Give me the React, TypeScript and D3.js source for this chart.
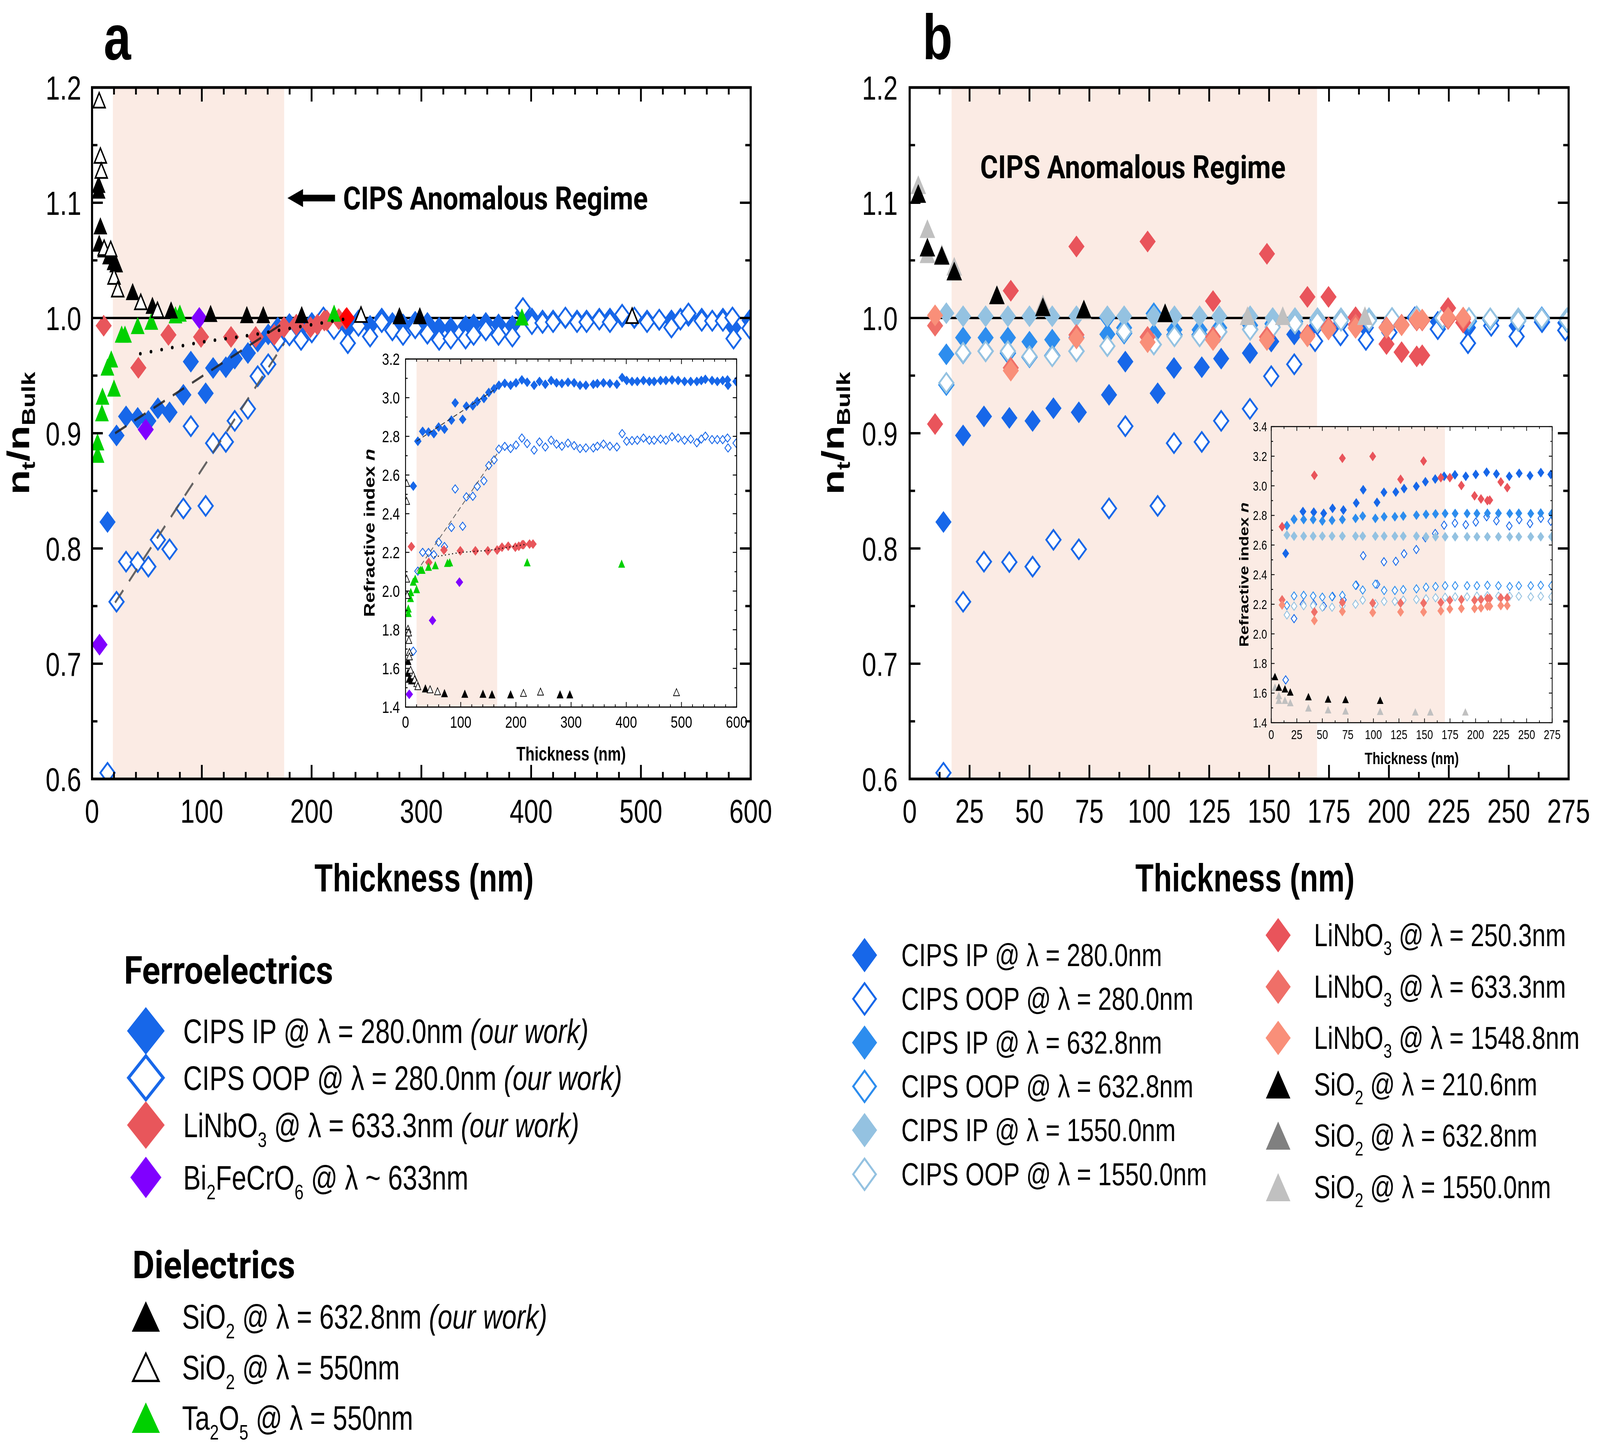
import React, { useEffect } from 'react';
import * as d3 from 'd3';

// ---------------- DATA ----------------
// CIPS @ 280 nm (thickness, nm) with refractive index n (IP / OOP)
const cipsThk = [14.1, 22.3, 31, 41.6, 51.3, 60, 70.6, 83.2, 90, 103.5, 110.3, 121.9, 130, 142, 150.9, 160.5, 169.2, 179.8, 190.4, 200.2, 210.8, 220.4, 233, 242.7, 253.3, 263.9, 273.6, 283.3, 294.4, 305.5, 316.2, 326.8, 340.3, 347.6, 358.7, 370.3, 382.9, 392.5, 400.7, 410.4, 420, 431.2, 441.8, 450.5, 462.1, 471.8, 482.9, 494, 505.6, 516.7, 527.8, 536, 543.3, 555.4, 565, 574.7, 583.4, 584.4, 598.9];
const cipsIP280 = [2.543, 2.775, 2.826, 2.822, 2.814, 2.848, 2.837, 2.884, 2.973, 2.888, 2.956, 2.958, 2.981, 2.996, 3.027, 3.046, 3.064, 3.074, 3.064, 3.077, 3.092, 3.08, 3.064, 3.084, 3.069, 3.089, 3.077, 3.073, 3.08, 3.077, 3.064, 3.064, 3.069, 3.073, 3.077, 3.073, 3.069, 3.104, 3.089, 3.084, 3.084, 3.089, 3.084, 3.084, 3.089, 3.089, 3.092, 3.089, 3.084, 3.084, 3.084, 3.089, 3.095, 3.089, 3.084, 3.089, 3.092, 3.064, 3.084];
const cipsOOP280 = [1.689, 2.103, 2.2, 2.199, 2.188, 2.253, 2.23, 2.329, 2.528, 2.335, 2.487, 2.49, 2.541, 2.57, 2.649, 2.678, 2.734, 2.748, 2.737, 2.755, 2.791, 2.763, 2.729, 2.771, 2.745, 2.78, 2.76, 2.749, 2.765, 2.752, 2.737, 2.74, 2.74, 2.749, 2.76, 2.749, 2.745, 2.814, 2.775, 2.778, 2.78, 2.791, 2.78, 2.78, 2.786, 2.78, 2.798, 2.791, 2.78, 2.786, 2.767, 2.786, 2.801, 2.783, 2.783, 2.783, 2.791, 2.74, 2.765];
const bulkIP280 = 3.09;
const bulkOOP280 = 2.79;

// CIPS @ 632.8 nm and 1550 nm
const cipsThkB = [15.3, 22.3, 31.7, 41, 50, 59.5, 69.6, 82.5, 89.5, 101.9, 110.5, 121, 129.2, 142.1, 151.5, 160.8, 170.2, 180, 191.7, 201.3, 211.6, 222.4, 233.4, 242.3, 254, 263.8, 274.3];
const cipsIP632 = [2.731, 2.772, 2.772, 2.772, 2.762, 2.767, 2.772, 2.78, 2.796, 2.78, 2.791, 2.791, 2.796, 2.802, 2.807, 2.81, 2.813, 2.813, 2.813, 2.813, 2.815, 2.815, 2.813, 2.815, 2.812, 2.816, 2.81];
const cipsOOP632 = [2.192, 2.256, 2.26, 2.256, 2.248, 2.251, 2.26, 2.328, 2.296, 2.336, 2.293, 2.293, 2.299, 2.304, 2.315, 2.32, 2.325, 2.325, 2.325, 2.325, 2.328, 2.325, 2.32, 2.325, 2.325, 2.328, 2.325];
const cipsIP1550 = [2.667, 2.66, 2.66, 2.66, 2.66, 2.66, 2.66, 2.66, 2.66, 2.66, 2.66, 2.66, 2.66, 2.66, 2.656, 2.656, 2.656, 2.656, 2.656, 2.656, 2.656, 2.656, 2.656, 2.656, 2.656, 2.656, 2.656];
const cipsOOP1550 = [2.128, 2.187, 2.19, 2.19, 2.18, 2.18, 2.19, 2.2, 2.228, 2.203, 2.219, 2.219, 2.228, 2.232, 2.237, 2.244, 2.247, 2.25, 2.25, 2.255, 2.258, 2.255, 2.255, 2.254, 2.25, 2.254, 2.25];
const bulkIP632 = 2.82;
const bulkOOP632 = 2.327;
const bulkIP1550 = 2.656;
const bulkOOP1550 = 2.255;

// LiNbO3
const lnThk = [10.6, 42.2, 69.6, 99.3, 126.6, 149.1, 166, 174.8, 186.1, 199, 205.3, 211.6, 213.9, 224.7, 231];
const ln250 = [2.724, 3.071, 3.186, 3.199, 3.044, 3.167, 3.055, 3.055, 3.002, 2.932, 2.911, 2.9, 2.903, 3.026, 2.988];
const ln633 = [2.23, 2.148, 2.212, 2.208, 2.208, 2.208, 2.212, 2.227, 2.232, 2.227, 2.232, 2.24, 2.24, 2.243, 2.243];
const ln1548 = [2.195, 2.09, 2.151, 2.144, 2.148, 2.148, 2.155, 2.168, 2.171, 2.171, 2.176, 2.187, 2.187, 2.191, 2.191];
const bulkLn250 = 3.0;
const bulkLn633 = 2.245;
const bulkLn1548 = 2.19;
const lnRefThk = [232];
const lnRefRatio = [1.0];

// Bi2FeCrO6
const bfcoThk = [6.8, 48.9, 97.7];
const bfcoN = [1.466, 1.848, 2.046];
const bulkBfco = 2.046;

// Ta2O5 @ 550 nm
const taThk = [5, 5, 9, 9.5, 14, 17.5, 20, 27, 30, 41.6, 54, 76, 80, 220.5, 391.6];
const taN = [1.887, 1.91, 1.964, 1.995, 2.049, 2.064, 2.01, 2.11, 2.11, 2.126, 2.134, 2.146, 2.149, 2.149, 2.142];
const bulkTa = 2.14;

// SiO2 @ 632.8 nm (our work) — panel a
const sioOurThkMain = [6, 6, 7.6, 6.5, 11, 15.5, 19.6, 22, 37, 55, 72, 108, 141, 156, 191, 280, 298.6];
const sioOurRatioMain = [1.116, 1.111, 1.08, 1.065, 1.06, 1.054, 1.049, 1.047, 1.023, 1.011, 1.007, 1.004, 1.003, 1.003, 1.003, 1.002, 1.002];
const sioOurThkInset = [4.5, 4.5, 6.8, 10.8, 14, 36, 70.6, 107.4, 140.3, 156.7, 190.4, 280, 297.7];
const sioOurNInset = [1.639, 1.578, 1.547, 1.539, 1.539, 1.497, 1.472, 1.469, 1.469, 1.466, 1.466, 1.466, 1.466];

// SiO2 @ 550 nm
const sio550ThkMain = [6.5, 7.6, 8.4, 11, 17, 20, 23.4, 44.4, 59.6, 245, 492];
const sio550RatioMain = [1.189, 1.141, 1.128, 1.061, 1.06, 1.036, 1.025, 1.014, 1.007, 1.003, 1.002];
const sio550ThkInset = [2, 2, 2, 3, 4.5, 5.5, 6, 7, 7, 9.2, 14, 16.5, 20.4, 22.3, 44.5, 58, 213.7, 244.6, 491];
const sio550NInset = [2.559, 2.466, 2.064, 1.98, 1.805, 1.786, 1.747, 1.685, 1.662, 1.593, 1.565, 1.544, 1.524, 1.508, 1.492, 1.482, 1.473, 1.48, 1.477];

// SiO2 panel b
const sio210Thk = [3.6, 7.4, 13.4, 18.6, 36.4, 55.6, 72.7, 106.6];
const sio210N = [1.712, 1.64, 1.629, 1.608, 1.576, 1.56, 1.557, 1.552];
const bulkSio210 = 1.545;
const sio1550Thk = [3.6, 7.4, 7.4, 13.4, 18.6, 36.4, 55.6, 72.7, 106.6, 141, 155.7, 190];
const sio1550N = [1.64, 1.584, 1.552, 1.552, 1.536, 1.5, 1.488, 1.48, 1.477, 1.473, 1.473, 1.473];
const bulkSio1550 = 1.47;

// Fit lines (panel a)
const fitThk = [21, 175];
const fitIPRatio = [0.9, 0.996];
const fitOOPRatio = [0.753, 0.978];
const lnFitThk = [44, 99, 144, 211, 230];
const lnFitRatio = [0.969, 0.979, 0.985, 0.996, 0.999];
const fitThkInset = [20, 166];
const fitIPInset = [2.775, 3.05];
const fitOOPInset = [2.1, 2.71];
const lnFitThkInset = [53, 100, 150, 215];
const lnFitInset = [2.177, 2.2, 2.21, 2.24];

// Shaded regimes
const regimeA = [19, 175];
const regimeB = [17.5, 170];
const regimeInsetA = [20, 166];
const regimeInsetB = [17.5, 170];

// Ticks
const aXTicks = [0, 100, 200, 300, 400, 500, 600];
const bXTicks = [0, 25, 50, 75, 100, 125, 150, 175, 200, 225, 250, 275];
const ratioTicks = [0.6, 0.7, 0.8, 0.9, 1.0, 1.1, 1.2];
const insetAYTicks = [1.4, 1.6, 1.8, 2.0, 2.2, 2.4, 2.6, 2.8, 3.0, 3.2];
const insetBYTicks = [1.4, 1.6, 1.8, 2.0, 2.2, 2.4, 2.6, 2.8, 3.0, 3.2, 3.4];

// ---------------- STYLE ----------------
const COL = {
  ip280: '#1767E9', ip632: '#2D8DEE', ip1550: '#94C2E1',
  ln250: '#E9545B', ln633a: '#E8565B', ln633b: '#EF6F68', ln1548: '#F98F79',
  bfco: '#8000FF', ta: '#00D000', gray: '#808080', lgray: '#C0C0C0',
  shade: '#FBEBE4', red: '#FF0000',
};
const SANS = '"Liberation Sans", Arial, Helvetica, sans-serif';
const COND = 'Roboto, "Liberation Sans", sans-serif';

const ratio = (arr: number[], bulk: number) => arr.map((v) => v / bulk);
const minorsOf = (majors: number[]) => {
  const out: number[] = [];
  for (let i = 0; i < majors.length - 1; i++) out.push((majors[i] + majors[i + 1]) / 2);
  return out;
};
const minorsN = (majors: number[], n: number) => {
  const out: number[] = [];
  for (let i = 0; i < majors.length - 1; i++) {
    for (let k = 1; k < n; k++) out.push(majors[i] + ((majors[i + 1] - majors[i]) * k) / n);
  }
  return out;
};

const diamondPath = (hw: number, hh: number) => `M0,${-hh}L${hw},0L0,${hh}L${-hw},0Z`;
const trianglePath = (hw: number, hh: number) => `M0,${-hh}L${hw},${hh}L${-hw},${hh}Z`;

interface Ser {
  xs: number[]; ys: number[]; shape: 'd' | 't'; fill: string; stroke: string; sw: number; hw: number; hh: number;
}
interface FitLine { xs: number[]; ys: number[]; stroke: string; sw: number; dash: string; cap?: string; opacity?: number; }

interface Box { x0: number; x1: number; y0: number; y1: number; }

interface PanelCfg {
  id: string;
  box: Box;
  xDom: [number, number];
  yDom: [number, number];
  xMajor: number[];
  xMinor: number[];
  yMajor: number[];
  yMinor: number[];
  majorLen: number;
  minorLen: number;
  tickW: number;
  frameW: number;
  fontSize: number;
  xLabelBase: number;
  yLabelRight: number;
  yLabelDy: number;
  yFmt: (v: number) => string;
  shade: number[];
  refLine?: number;
  refW?: number;
  series: Ser[];
  fits: FitLine[];
}

function Panel({ cfg }: { cfg: PanelCfg }) {
  const { box } = cfg;
  const sx = d3.scaleLinear().domain(cfg.xDom).range([box.x0, box.x1]);
  const sy = d3.scaleLinear().domain(cfg.yDom).range([box.y1, box.y0]);
  const line = d3.line<[number, number]>().x((d) => sx(d[0])).y((d) => sy(d[1]));
  const clip = `clip-${cfg.id}`;
  const ticks: any[] = [];
  const addX = (v: number, len: number, k: string) => {
    const x = sx(v);
    ticks.push(<line key={`xb${k}`} x1={x} x2={x} y1={box.y1} y2={box.y1 - len} />);
    ticks.push(<line key={`xt${k}`} x1={x} x2={x} y1={box.y0} y2={box.y0 + len} />);
  };
  const addY = (v: number, len: number, k: string) => {
    const y = sy(v);
    ticks.push(<line key={`yl${k}`} x1={box.x0} x2={box.x0 + len} y1={y} y2={y} />);
    ticks.push(<line key={`yr${k}`} x1={box.x1} x2={box.x1 - len} y1={y} y2={y} />);
  };
  cfg.xMajor.forEach((v, i) => addX(v, cfg.majorLen, 'M' + i));
  cfg.xMinor.forEach((v, i) => addX(v, cfg.minorLen, 'm' + i));
  cfg.yMajor.forEach((v, i) => addY(v, cfg.majorLen, 'M' + i));
  cfg.yMinor.forEach((v, i) => addY(v, cfg.minorLen, 'm' + i));
  return (
    <g>
      <defs>
        <clipPath id={clip}>
          <rect x={box.x0} y={box.y0} width={box.x1 - box.x0} height={box.y1 - box.y0} />
        </clipPath>
      </defs>
      <rect x={sx(cfg.shade[0])} y={box.y0} width={sx(cfg.shade[1]) - sx(cfg.shade[0])} height={box.y1 - box.y0} fill={COL.shade} />
      {cfg.refLine !== undefined && (
        <line x1={box.x0} x2={box.x1} y1={sy(cfg.refLine)} y2={sy(cfg.refLine)} stroke="#000" strokeWidth={cfg.refW} />
      )}
      <g clipPath={`url(#${clip})`}>
        {cfg.series.map((s, si) => {
          const p = s.shape === 'd' ? diamondPath(s.hw, s.hh) : trianglePath(s.hw, s.hh);
          return (
            <g key={si}>
              {s.xs.map((x, i) => (
                <path key={i} d={p} transform={`translate(${sx(x)},${sy(s.ys[i])})`} fill={s.fill} stroke={s.stroke} strokeWidth={s.sw} strokeLinejoin="miter" />
              ))}
            </g>
          );
        })}
        {cfg.fits.map((f, fi) => (
          <path key={fi} d={line(f.xs.map((x, i) => [x, f.ys[i]] as [number, number])) || ''} fill="none" stroke={f.stroke} strokeWidth={f.sw} strokeDasharray={f.dash} strokeLinecap={(f.cap as any) || 'butt'} opacity={f.opacity ?? 1} />
        ))}
      </g>
      <g stroke="#000" strokeWidth={cfg.tickW}>{ticks}</g>
      <rect x={box.x0} y={box.y0} width={box.x1 - box.x0} height={box.y1 - box.y0} fill="none" stroke="#000" strokeWidth={cfg.frameW} />
      <g fontFamily={SANS} fontSize={cfg.fontSize} fill="#000">
        {cfg.xMajor.map((v, i) => (
          <text key={'xl' + i} x={sx(v)} y={cfg.xLabelBase} textAnchor="middle">{String(v)}</text>
        ))}
        {cfg.yMajor.map((v, i) => (
          <text key={'yl' + i} x={cfg.yLabelRight} y={sy(v) + cfg.yLabelDy} textAnchor="end">{cfg.yFmt(v)}</text>
        ))}
      </g>
    </g>
  );
}

interface Part { t: string; sub?: boolean; it?: boolean; }
function Rich({ x, y, parts, size, weight = 400, family = SANS, anchor = 'start', transform, subScale = 0.62, shift = 0.28 }: {
  x: number; y: number; parts: Part[]; size: number; weight?: number; family?: string; anchor?: string; transform?: string; subScale?: number; shift?: number;
}) {
  let cur = 0;
  const spans = parts.map((p, i) => {
    const target = p.sub ? size * shift : 0;
    const dy = target - cur;
    cur = target;
    return (
      <tspan key={i} dy={dy} fontSize={p.sub ? size * subScale : size} fontStyle={p.it ? 'italic' : 'normal'}>{p.t}</tspan>
    );
  });
  return (
    <text x={x} y={y} fontSize={size} fontFamily={family} fontWeight={weight} textAnchor={anchor as any} transform={transform} style={{ whiteSpace: 'pre' }}>
      {spans}
    </text>
  );
}

function LegendMarker({ x, y, shape, fill, stroke, sw, hw, hh }: { x: number; y: number; shape: 'd' | 't'; fill: string; stroke: string; sw: number; hw: number; hh: number }) {
  const p = shape === 'd' ? diamondPath(hw, hh) : trianglePath(hw, hh);
  return <path d={p} transform={`translate(${x},${y})`} fill={fill} stroke={stroke} strokeWidth={sw} strokeLinejoin="miter" />;
}

export default function App() {
  useEffect(() => {
    document.body.style.margin = '0';
    document.body.style.overflow = 'hidden';
  }, []);
  const fmt1 = d3.format('.1f');

  // marker presets
  const mFill = (c: string): Omit<Ser, 'xs' | 'ys'> => ({ shape: 'd', fill: c, stroke: 'none', sw: 0, hw: 27, hh: 28 });
  const mOpen = (c: string): Omit<Ser, 'xs' | 'ys'> => ({ shape: 'd', fill: '#fff', stroke: c, sw: 5.5, hw: 24, hh: 25 });
  const tFillA = (c: string): Omit<Ser, 'xs' | 'ys'> => ({ shape: 't', fill: c, stroke: 'none', sw: 0, hw: 23, hh: 22 });
  const tOpenA: Omit<Ser, 'xs' | 'ys'> = { shape: 't', fill: '#fff', stroke: '#000', sw: 4.5, hw: 20, hh: 19 };
  const tFillB = (c: string): Omit<Ser, 'xs' | 'ys'> => ({ shape: 't', fill: c, stroke: 'none', sw: 0, hw: 26, hh: 24 });

  const iFill = (c: string): Omit<Ser, 'xs' | 'ys'> => ({ shape: 'd', fill: c, stroke: 'none', sw: 0, hw: 12.5, hh: 12.5 });
  const iOpen = (c: string): Omit<Ser, 'xs' | 'ys'> => ({ shape: 'd', fill: '#fff', stroke: c, sw: 2.6, hw: 10.5, hh: 10.5 });
  const iTri = (c: string): Omit<Ser, 'xs' | 'ys'> => ({ shape: 't', fill: c, stroke: 'none', sw: 0, hw: 11.5, hh: 10.5 });
  const iTriOpen: Omit<Ser, 'xs' | 'ys'> = { shape: 't', fill: '#fff', stroke: '#000', sw: 2, hw: 10, hh: 9 };
  const jFill = (c: string): Omit<Ser, 'xs' | 'ys'> => ({ shape: 'd', fill: c, stroke: 'none', sw: 0, hw: 11.5, hh: 12.5 });
  const jOpen = (c: string): Omit<Ser, 'xs' | 'ys'> => ({ shape: 'd', fill: '#fff', stroke: c, sw: 2.6, hw: 9.5, hh: 10.5 });
  const jTri = (c: string): Omit<Ser, 'xs' | 'ys'> => ({ shape: 't', fill: c, stroke: 'none', sw: 0, hw: 11, hh: 9.5 });

  const mainA: PanelCfg = {
    id: 'ma',
    box: { x0: 308, x1: 2512, y0: 224, y1: 1994 },
    xDom: [0, 600], yDom: [0.6, 1.2],
    xMajor: aXTicks, xMinor: minorsN(aXTicks, 5),
    yMajor: ratioTicks, yMinor: minorsOf(ratioTicks),
    majorLen: 36, minorLen: 18, tickW: 6, frameW: 7, fontSize: 86,
    xLabelBase: 2106, yLabelRight: 272, yLabelDy: 31, yFmt: fmt1,
    shade: regimeA, refLine: 1.0, refW: 6,
    series: [
      { xs: cipsThk, ys: ratio(cipsIP280, bulkIP280), ...mFill(COL.ip280) },
      { xs: cipsThk, ys: ratio(cipsOOP280, bulkOOP280), ...mOpen(COL.ip280) },
      { xs: lnThk, ys: ratio(ln633, bulkLn633), ...mFill(COL.ln633a) },
      { xs: lnRefThk, ys: lnRefRatio, ...mFill(COL.red) },
      { xs: bfcoThk, ys: ratio(bfcoN, bulkBfco), ...mFill(COL.bfco) },
      { xs: taThk, ys: ratio(taN, bulkTa), ...tFillA(COL.ta) },
      { xs: sioOurThkMain, ys: sioOurRatioMain, ...tFillA('#000') },
      { xs: sio550ThkMain, ys: sio550RatioMain, ...tOpenA },
    ],
    fits: [
      { xs: fitThk, ys: fitIPRatio, stroke: '#222', sw: 6, dash: '42 30', opacity: 0.85 },
      { xs: fitThk, ys: fitOOPRatio, stroke: '#555', sw: 6, dash: '42 30', opacity: 0.9 },
      { xs: lnFitThk, ys: lnFitRatio, stroke: '#000', sw: 9, dash: '0 36', cap: 'round' },
    ],
  };

  const insetA: PanelCfg = {
    id: 'ia',
    box: { x0: 1357, x1: 2465, y0: 919, y1: 1810 },
    xDom: [0, 600], yDom: [1.4, 3.2],
    xMajor: aXTicks, xMinor: minorsN(aXTicks, 5),
    yMajor: insetAYTicks, yMinor: minorsOf(insetAYTicks),
    majorLen: 13, minorLen: 7, tickW: 2.5, frameW: 3, fontSize: 43,
    xLabelBase: 1863, yLabelRight: 1338, yLabelDy: 15, yFmt: fmt1,
    shade: regimeInsetA,
    series: [
      { xs: cipsThk, ys: cipsOOP280, ...iOpen(COL.ip280) },
      { xs: cipsThk, ys: cipsIP280, ...iFill(COL.ip280) },
      { xs: lnThk, ys: ln633, ...iFill(COL.ln633a) },
      { xs: bfcoThk, ys: bfcoN, ...iFill(COL.bfco) },
      { xs: taThk, ys: taN, ...iTri(COL.ta) },
      { xs: sioOurThkInset, ys: sioOurNInset, ...iTri('#000') },
      { xs: sio550ThkInset, ys: sio550NInset, ...iTriOpen },
    ],
    fits: [
      { xs: fitThkInset, ys: fitIPInset, stroke: '#222', sw: 2.5, dash: '14 9', opacity: 0.85 },
      { xs: fitThkInset, ys: fitOOPInset, stroke: '#555', sw: 2.5, dash: '14 9', opacity: 0.9 },
      { xs: lnFitThkInset, ys: lnFitInset, stroke: '#000', sw: 3.5, dash: '0 12', cap: 'round' },
    ],
  };

  const mainB: PanelCfg = {
    id: 'mb',
    box: { x0: 3044, x1: 5249, y0: 224, y1: 1994 },
    xDom: [0, 275], yDom: [0.6, 1.2],
    xMajor: bXTicks, xMinor: minorsOf(bXTicks),
    yMajor: ratioTicks, yMinor: minorsOf(ratioTicks),
    majorLen: 36, minorLen: 18, tickW: 6, frameW: 7, fontSize: 86,
    xLabelBase: 2106, yLabelRight: 3004, yLabelDy: 31, yFmt: fmt1,
    shade: regimeB, refLine: 1.0, refW: 6,
    series: [
      { xs: cipsThk, ys: ratio(cipsIP280, bulkIP280), ...mFill(COL.ip280) },
      { xs: cipsThk, ys: ratio(cipsOOP280, bulkOOP280), ...mOpen(COL.ip280) },
      { xs: cipsThkB, ys: ratio(cipsIP632, bulkIP632), ...mFill(COL.ip632) },
      { xs: cipsThkB, ys: ratio(cipsOOP632, bulkOOP632), ...mOpen(COL.ip632) },
      { xs: cipsThkB, ys: ratio(cipsIP1550, bulkIP1550), ...mFill(COL.ip1550) },
      { xs: cipsThkB, ys: ratio(cipsOOP1550, bulkOOP1550), ...mOpen(COL.ip1550) },
      { xs: lnThk, ys: ratio(ln250, bulkLn250), ...mFill(COL.ln250) },
      { xs: lnThk, ys: ratio(ln633, bulkLn633), ...mFill(COL.ln633b) },
      { xs: lnThk, ys: ratio(ln1548, bulkLn1548), ...mFill(COL.ln1548) },
      { xs: sio1550Thk, ys: ratio(sio1550N, bulkSio1550), ...tFillB(COL.lgray) },
      { xs: sio210Thk, ys: ratio(sio210N, bulkSio210), ...tFillB('#000') },
    ],
    fits: [],
  };

  const insetB: PanelCfg = {
    id: 'ib',
    box: { x0: 4254, x1: 5194, y0: 1092, y1: 1850 },
    xDom: [0, 275], yDom: [1.4, 3.4],
    xMajor: bXTicks, xMinor: minorsOf(bXTicks),
    yMajor: insetBYTicks, yMinor: minorsOf(insetBYTicks),
    majorLen: 11, minorLen: 6, tickW: 2.2, frameW: 2.6, fontSize: 34,
    xLabelBase: 1892, yLabelRight: 4240, yLabelDy: 12, yFmt: fmt1,
    shade: regimeInsetB,
    series: [
      { xs: cipsThk, ys: cipsIP280, ...jFill(COL.ip280) },
      { xs: cipsThk, ys: cipsOOP280, ...jOpen(COL.ip280) },
      { xs: cipsThkB, ys: cipsIP632, ...jFill(COL.ip632) },
      { xs: cipsThkB, ys: cipsOOP632, ...jOpen(COL.ip632) },
      { xs: cipsThkB, ys: cipsIP1550, ...jFill(COL.ip1550) },
      { xs: cipsThkB, ys: cipsOOP1550, ...jOpen(COL.ip1550) },
      { xs: lnThk, ys: ln250, ...jFill(COL.ln250) },
      { xs: lnThk, ys: ln633, ...jFill(COL.ln633b) },
      { xs: lnThk, ys: ln1548, ...jFill(COL.ln1548) },
      { xs: sio1550Thk, ys: sio1550N, ...jTri(COL.lgray) },
      { xs: sio210Thk, ys: sio210N, ...jTri('#000') },
    ],
    fits: [],
  };

  const legendA1: { parts: Part[]; m: any }[] = [
    { parts: [{ t: 'CIPS IP @ λ = 280.0nm ' }, { t: '(our work)', it: true }], m: { shape: 'd', fill: COL.ip280, stroke: 'none', sw: 0, hw: 63, hh: 61 } },
    { parts: [{ t: 'CIPS OOP @ λ = 280.0nm ' }, { t: '(our work)', it: true }], m: { shape: 'd', fill: '#fff', stroke: COL.ip280, sw: 9, hw: 58, hh: 56 } },
    { parts: [{ t: 'LiNbO' }, { t: '3', sub: true }, { t: ' @ λ = 633.3nm ' }, { t: '(our work)', it: true }], m: { shape: 'd', fill: COL.ln633a, stroke: 'none', sw: 0, hw: 63, hh: 61 } },
    { parts: [{ t: 'Bi' }, { t: '2', sub: true }, { t: 'FeCrO' }, { t: '6', sub: true }, { t: ' @ λ ~ 633nm' }], m: { shape: 'd', fill: COL.bfco, stroke: 'none', sw: 0, hw: 52, hh: 53 } },
  ];
  const legendA1Y = [2639, 2759, 2880, 3014];
  const legendA2: { parts: Part[]; m: any }[] = [
    { parts: [{ t: 'SiO' }, { t: '2', sub: true }, { t: ' @ λ = 632.8nm ' }, { t: '(our work)', it: true }], m: { shape: 't', fill: '#000', stroke: 'none', sw: 0, hw: 47, hh: 39 } },
    { parts: [{ t: 'SiO' }, { t: '2', sub: true }, { t: ' @ λ = 550nm' }], m: { shape: 't', fill: '#fff', stroke: '#000', sw: 6, hw: 43, hh: 35 } },
    { parts: [{ t: 'Ta' }, { t: '2', sub: true }, { t: 'O' }, { t: '5', sub: true }, { t: ' @ λ = 550nm' }], m: { shape: 't', fill: COL.ta, stroke: 'none', sw: 0, hw: 47, hh: 39 } },
  ];
  const legendA2Y = [3370, 3500, 3629];

  const legendBL: { parts: Part[]; m: any }[] = [
    { parts: [{ t: 'CIPS IP @ λ = 280.0nm' }], m: { shape: 'd', fill: COL.ip280, stroke: 'none', sw: 0, hw: 42, hh: 44 } },
    { parts: [{ t: 'CIPS OOP @ λ = 280.0nm' }], m: { shape: 'd', fill: '#fff', stroke: COL.ip280, sw: 6, hw: 38, hh: 40 } },
    { parts: [{ t: 'CIPS IP @ λ = 632.8nm' }], m: { shape: 'd', fill: COL.ip632, stroke: 'none', sw: 0, hw: 42, hh: 44 } },
    { parts: [{ t: 'CIPS OOP @ λ = 632.8nm' }], m: { shape: 'd', fill: '#fff', stroke: COL.ip632, sw: 6, hw: 38, hh: 40 } },
    { parts: [{ t: 'CIPS IP @ λ = 1550.0nm' }], m: { shape: 'd', fill: COL.ip1550, stroke: 'none', sw: 0, hw: 42, hh: 44 } },
    { parts: [{ t: 'CIPS OOP @ λ = 1550.0nm' }], m: { shape: 'd', fill: '#fff', stroke: COL.ip1550, sw: 6, hw: 38, hh: 40 } },
  ];
  const legendBLY = [2445, 2557, 2669, 2781, 2893, 3006];
  const legendBR: { parts: Part[]; m: any }[] = [
    { parts: [{ t: 'LiNbO' }, { t: '3', sub: true }, { t: ' @ λ = 250.3nm' }], m: { shape: 'd', fill: COL.ln250, stroke: 'none', sw: 0, hw: 42, hh: 44 } },
    { parts: [{ t: 'LiNbO' }, { t: '3', sub: true }, { t: ' @ λ = 633.3nm' }], m: { shape: 'd', fill: COL.ln633b, stroke: 'none', sw: 0, hw: 42, hh: 44 } },
    { parts: [{ t: 'LiNbO' }, { t: '3', sub: true }, { t: ' @ λ = 1548.8nm' }], m: { shape: 'd', fill: COL.ln1548, stroke: 'none', sw: 0, hw: 42, hh: 44 } },
    { parts: [{ t: 'SiO' }, { t: '2', sub: true }, { t: ' @ λ = 210.6nm' }], m: { shape: 't', fill: '#000', stroke: 'none', sw: 0, hw: 41, hh: 36 } },
    { parts: [{ t: 'SiO' }, { t: '2', sub: true }, { t: ' @ λ = 632.8nm' }], m: { shape: 't', fill: COL.gray, stroke: 'none', sw: 0, hw: 41, hh: 36 } },
    { parts: [{ t: 'SiO' }, { t: '2', sub: true }, { t: ' @ λ = 1550.0nm' }], m: { shape: 't', fill: COL.lgray, stroke: 'none', sw: 0, hw: 41, hh: 36 } },
  ];
  const legendBRY = [2394, 2526, 2657, 2776, 2907, 3039];

  return (
    <svg viewBox="0 0 5354 3699" preserveAspectRatio="none" style={{ position: 'fixed', left: 0, top: 0, width: '100vw', height: '100vh', display: 'block' }}>
      <rect x={0} y={0} width={5354} height={3699} fill="#fff" />

      {/* Panel letters */}
      <text x={347} y={152} fontFamily={SANS} fontWeight={700} fontSize={164}>a</text>
      <text x={3087} y={152} fontFamily={SANS} fontWeight={700} fontSize={164}>b</text>

      <Panel cfg={mainA} />
      <Panel cfg={mainB} />

      {/* Annotations */}
      <polygon points="962,507 1014,484 1014,530" fill="#000" />
      <rect x={1008} y={498.5} width={113} height={17} fill="#000" />
      <text x={1148} y={536} fontFamily={COND} fontWeight={700} fontSize={81} textLength={1020} lengthAdjust="spacingAndGlyphs">CIPS Anomalous Regime</text>
      <text x={3280} y={456} fontFamily={COND} fontWeight={700} fontSize={81} textLength={1022} lengthAdjust="spacingAndGlyphs">CIPS Anomalous Regime</text>

      <Panel cfg={insetA} />
      <Panel cfg={insetB} />

      {/* Axis titles main */}
      <text x={1419} y={2282} textAnchor="middle" fontFamily={SANS} fontWeight={700} fontSize={100}>Thickness (nm)</text>
      <text x={4166} y={2282} textAnchor="middle" fontFamily={SANS} fontWeight={700} fontSize={100}>Thickness (nm)</text>
      <Rich x={0} y={0} transform="translate(97,1109) rotate(-90)" anchor="middle" weight={700} size={104} subScale={0.61} shift={0.19}
        parts={[{ t: 'n' }, { t: 't', sub: true }, { t: '/n' }, { t: 'Bulk', sub: true }]} />
      <Rich x={0} y={0} transform="translate(2824,1109) rotate(-90)" anchor="middle" weight={700} size={104} subScale={0.61} shift={0.19}
        parts={[{ t: 'n' }, { t: 't', sub: true }, { t: '/n' }, { t: 'Bulk', sub: true }]} />

      {/* Inset titles */}
      <text x={1911} y={1947} textAnchor="middle" fontFamily={SANS} fontWeight={700} fontSize={50}>Thickness (nm)</text>
      <Rich x={0} y={0} transform="translate(1253,1364) rotate(-90)" anchor="middle" weight={700} size={50}
        parts={[{ t: 'Refractive index ' }, { t: 'n', it: true }]} />
      <text x={4724} y={1956} textAnchor="middle" fontFamily={SANS} fontWeight={700} fontSize={43}>Thickness (nm)</text>
      <Rich x={0} y={0} transform="translate(4178,1471) rotate(-90)" anchor="middle" weight={700} size={43}
        parts={[{ t: 'Refractive index ' }, { t: 'n', it: true }]} />

      {/* Legend a */}
      <text x={415} y={2518} fontFamily={COND} fontWeight={700} fontSize={98} textLength={700} lengthAdjust="spacingAndGlyphs">Ferroelectrics</text>
      {legendA1.map((r, i) => (
        <g key={'la1' + i}>
          <LegendMarker x={488} y={legendA1Y[i]} {...r.m} />
          <Rich x={613} y={legendA1Y[i] + 31} parts={r.parts} size={88} />
        </g>
      ))}
      <text x={443} y={3272} fontFamily={COND} fontWeight={700} fontSize={98} textLength={545} lengthAdjust="spacingAndGlyphs">Dielectrics</text>
      {legendA2.map((r, i) => (
        <g key={'la2' + i}>
          <LegendMarker x={488} y={legendA2Y[i]} {...r.m} />
          <Rich x={609} y={legendA2Y[i] + 31} parts={r.parts} size={88} />
        </g>
      ))}

      {/* Legend b */}
      {legendBL.map((r, i) => (
        <g key={'lbl' + i}>
          <LegendMarker x={2893} y={legendBLY[i]} {...r.m} />
          <Rich x={3016} y={legendBLY[i] + 28} parts={r.parts} size={82} />
        </g>
      ))}
      {legendBR.map((r, i) => (
        <g key={'lbr' + i}>
          <LegendMarker x={4277} y={legendBRY[i]} {...r.m} />
          <Rich x={4397} y={legendBRY[i] + 28} parts={r.parts} size={82} />
        </g>
      ))}
    </svg>
  );
}
